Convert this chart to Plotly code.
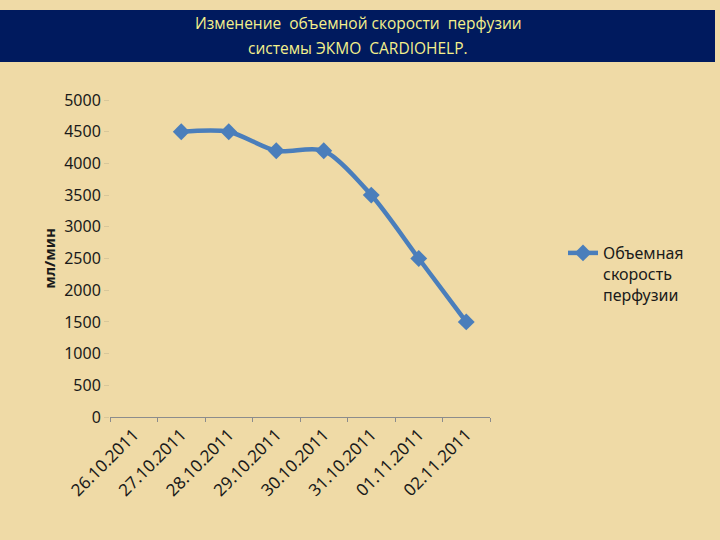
import plotly.graph_objects as go

dates = ["26.10.2011", "27.10.2011", "28.10.2011", "29.10.2011",
         "30.10.2011", "31.10.2011", "01.11.2011", "02.11.2011"]
flow = [None, 4500, 4500, 4200, 4200, 3500, 2500, 1500]
y_ticks = [0, 500, 1000, 1500, 2000, 2500, 3000, 3500, 4000, 4500, 5000]
series_name = "Объемная<br>скорость<br>перфузии"
title_lines = ["Изменение  объемной скорости  перфузии", "системы ЭКМО  CARDIOHELP."]

W, H = 720, 540
L, R, T, B = 110, 490, 100, 417  # plot area in pixels


def px(x):
    return (x - L) / (R - L)


def py(y):
    return (B - y) / (B - T)


fig = go.Figure()
fig.add_trace(go.Scatter(
    x=dates, y=flow, name=series_name, mode="lines+markers",
    line=dict(color="#4A7EBB", width=4.5, shape="spline", smoothing=0.8),
    marker=dict(symbol="diamond", size=13, color="#4A7EBB"),
    connectgaps=False,
))

fig.update_layout(
    width=W, height=H,
    paper_bgcolor="#EFDAA6", plot_bgcolor="rgba(0,0,0,0)",
    margin=dict(l=L, r=W - R, t=T, b=H - B, autoexpand=False),
    showlegend=True,
    legend=dict(x=px(563), y=py(236), xanchor="left", yanchor="top",
                valign="top",
                font=dict(family="Noto Sans", size=16, color="#1a1a1a"),
                bgcolor="rgba(0,0,0,0)", itemwidth=30),
    xaxis=dict(type="category", categoryorder="array", automargin=False,
               categoryarray=dates, range=[-0.5, 7.5], tickangle=-45,
               tickfont=dict(family="Noto Sans", size=17, color="#1a1a1a"),
               showgrid=False, showline=True, linecolor="#8c8c8c", linewidth=1,
               ticks="outside", tickson="boundaries", ticklen=4, tickcolor="#8c8c8c",
               zeroline=False),
    yaxis=dict(range=[0, 5000], tickvals=y_ticks, automargin=False,
               tickfont=dict(family="Noto Sans", size=16, color="#1a1a1a"),
               showgrid=False, showline=False, zeroline=False,
               ticks="outside", ticklen=5, tickcolor="#d8c79a",
               title=dict(text="<b>мл/мин</b>", standoff=4,
                          font=dict(family="Noto Sans", size=15, color="#1a1a1a"))),
)

fig.add_shape(type="rect", xref="paper", yref="paper",
              x0=px(0), x1=px(715), y0=py(62), y1=py(10),
              fillcolor="#001A5E", line=dict(width=0), layer="below")
for i, t in enumerate(title_lines):
    fig.add_annotation(xref="paper", yref="paper", x=px(358), y=py(23 + 25 * i),
                       text=t, showarrow=False, xanchor="center", yanchor="middle",
                       font=dict(family="Open Sans", size=15.5, color="#F4F08C"))

fig.write_html("out.html",
               config={"displayModeBar": False},
               post_script="document.body.style.margin='0';"
                           "document.body.style.padding='0';"
                           "document.body.style.background='#EFDAA6';")
